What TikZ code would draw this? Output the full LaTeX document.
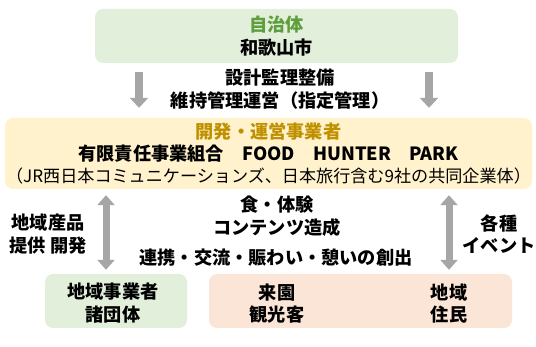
\documentclass[tikz,border=0pt]{standalone}
\usepackage{fontspec}
\setmainfont{Noto Sans CJK JP}
\usetikzlibrary{arrows.meta}
\definecolor{boxgreen}{HTML}{E2EFDA}
\definecolor{boxyellow}{HTML}{FFF2CC}
\definecolor{boxpink}{HTML}{FBE5D6}
\definecolor{titlegreen}{HTML}{5E9E3E}
\definecolor{titlegold}{HTML}{BF9000}
\definecolor{arrgray}{HTML}{A6A6A6}
\tikzset{
  panel/.style={rounded corners=8pt, draw=none, inner sep=0pt, align=center, text=black,
    font=\bfseries\fontsize{18.2}{22.5}\selectfont},
  lbl/.style={inner sep=0pt, align=center, text=black, font=\bfseries\fontsize{18.2}{22.5}\selectfont},
  downarr/.style={draw=arrgray, line width=8pt, -{Triangle[width=18pt,length=10pt]}},
  duoarr/.style={draw=arrgray, line width=7pt, {Triangle[width=17pt,length=10pt]}-{Triangle[width=17pt,length=10pt]}}
}
\begin{document}
\begin{tikzpicture}[x=1pt,y=-1pt]
\useasboundingbox (0,0) rectangle (536,347);
% top box
\node[panel, fill=boxgreen, minimum width=363pt, minimum height=54pt] (top) at (276.5,36)
  {\textcolor{titlegreen}{自治体}\\和歌山市};
% middle box
\node[panel, fill=boxyellow, minimum width=527pt, minimum height=71pt] (mid) at (268.5,153.5)
  {\textcolor{titlegold}{開発・運営事業者}\\有限責任事業組合　FOOD　HUNTER　PARK\\[-0.5pt]{\mdseries\fontsize{17.1}{22}\selectfont （JR西日本コミュニケーションズ、日本旅行含む9社の共同企業体）}};
% bottom boxes
\node[panel, fill=boxgreen, minimum width=142pt, minimum height=54pt] (bl) at (116,301) {};
\node[panel, fill=boxpink, minimum width=303pt, minimum height=54pt] (br) at (360.5,301) {};
\node[lbl] (blt) at (113,303) {地域事業者\\諸団体};
\node[lbl] (brt1) at (277,303.5) {来園\\観光客};
\node[lbl] (brt2) at (449,303.5) {地域\\住民};
% labels
\node[lbl] (work) at (280,89) {設計監理整備\\維持管理運営（指定管理）};
\node[lbl] (food) at (277,216) {食・体験\\コンテンツ造成};
\node[lbl] (link) at (276,258) {連携・交流・賑わい・憩いの創出};
\node[lbl] (prod) at (48,234) {地域産品\\提供 開発};
\node[lbl] (event) at (499,234) {各種\\イベント};
% arrows
\draw[downarr] ([yshift=-9pt]top.south -| 139,0) -- ([yshift=10pt]mid.north -| 139,0);
\draw[downarr] ([yshift=-9pt]top.south -| 429,0) -- ([yshift=10pt]mid.north -| 429,0);
\draw[duoarr] ([yshift=-6pt]mid.south -| 106,0) -- ([yshift=4pt]bl.north -| 106,0);
\draw[duoarr] ([yshift=-6pt]mid.south -| 449,0) -- ([yshift=4pt]br.north -| 449,0);
\end{tikzpicture}
\end{document}
